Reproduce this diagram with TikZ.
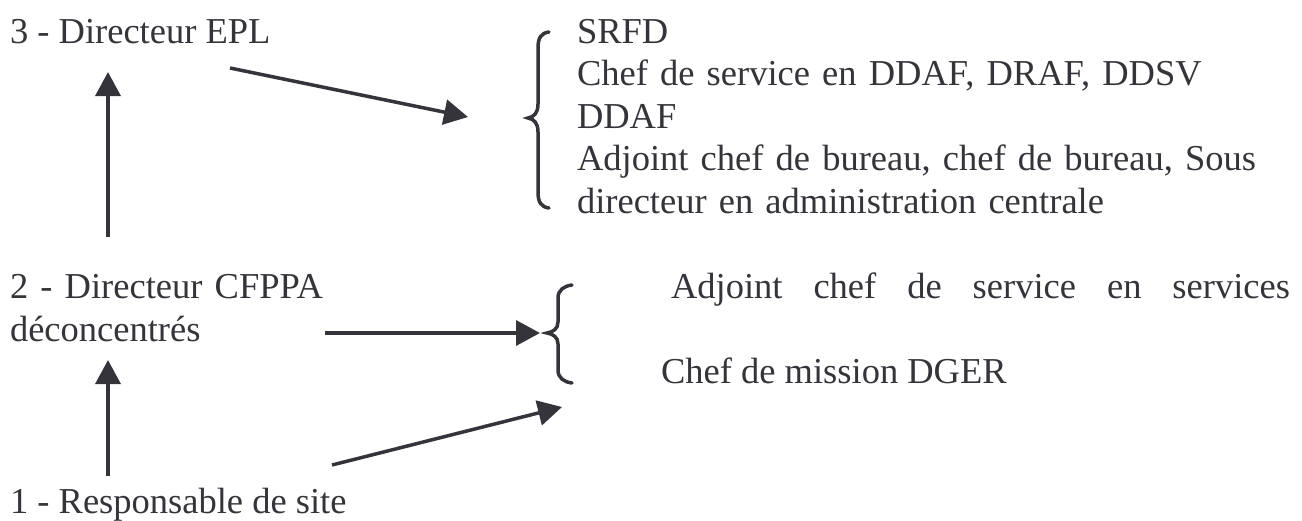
\documentclass[tikz,border=0pt]{standalone}
\usepackage{fontspec}
\setmainfont{Liberation Serif}
\usetikzlibrary{arrows.meta}
\definecolor{ink}{RGB}{52,52,58}
\begin{document}
\begin{tikzpicture}[x=1pt,y=-1pt,
  label/.style={anchor=base west,inner sep=0pt,outer sep=0pt,text=ink,
    font=\fontsize{36.5}{42.5}\selectfont},
  link/.style={draw=ink,line width=3.5pt,-{Triangle[length=24pt,width=25pt]}},
  brace/.style={draw=ink,line width=3.5pt,line cap=round}]
\useasboundingbox (0,0) rectangle (1302,520);

% left column: the three levels
\node[label] (dirEPL) at (10,43) {3 - Directeur EPL};
\node[label,text width=400pt,align=left] (dirCFPPA) at (10,298.5)
  {2 - Directeur CFPPA\\déconcentrés};
\node[label] (resp) at (10,513) {1 - Responsable de site};

% right column: equivalent positions
\node[label,text width=713pt,align=left] (grpA) at (577,43)
  {SRFD\\
   Chef de service en DDAF, DRAF, DDSV\\
   DDAF\\
   \makebox[\linewidth][s]{Adjoint chef de bureau, chef de bureau, Sous}\\
   directeur en administration centrale};
\node[label] (grpB1) at (671,298.5)
  {\makebox[619pt][s]{Adjoint chef de service en services}};
\node[label] (grpB2) at (661,383.5) {Chef de mission DGER};

% curly braces grouping the right-hand lists
\path[brace] (549,32) .. controls (541,33) and (538,38) .. (538,48)
  -- (538,104) .. controls (538,113) and (534,117) .. (528,118)
  .. controls (534,119) and (538,123) .. (538,132)
  -- (538,192) .. controls (538,202) and (541,207) .. (549,208);
\path[brace] (572,285) .. controls (564,286) and (558,290) .. (558,298)
  -- (558,322) .. controls (558,329) and (553,332) .. (547,333)
  .. controls (553,334) and (558,337) .. (558,344)
  -- (558,370) .. controls (558,378) and (564,382) .. (572,383);

% arrow end points
\coordinate (up1from) at (108,237);
\coordinate (up1to)   at (108,72);
\coordinate (up2from) at (108,476);
\coordinate (up2to)   at (108,360);
\coordinate (d1from)  at (230,68);
\coordinate (d1to)    at (468,117);
\coordinate (hfrom)   at (325,333);
\coordinate (hto)     at (540,333);
\coordinate (d2from)  at (332,465);
\coordinate (d2to)    at (562,407);

\draw[link] (up1from) -- (up1to);
\draw[link] (up2from) -- (up2to);
\draw[link] (d1from) -- (d1to);
\draw[link] (hfrom) -- (hto);
\draw[link] (d2from) -- (d2to);
\end{tikzpicture}
\end{document}
